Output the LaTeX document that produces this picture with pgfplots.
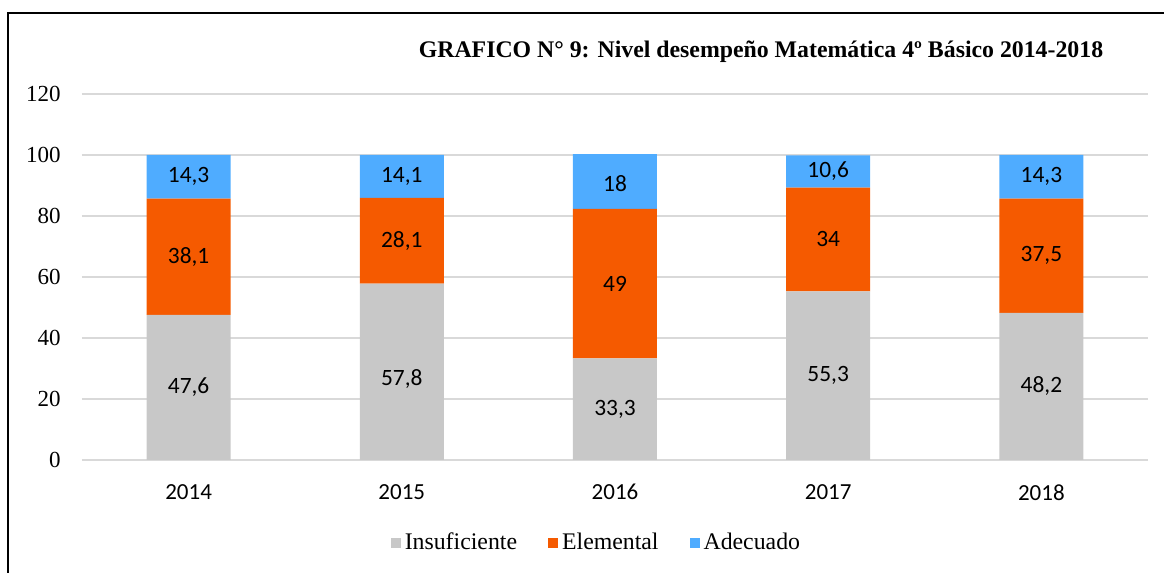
\documentclass[border=0pt]{standalone}
\usepackage{fontspec}
\setmainfont{Liberation Serif}
\newfontfamily\calibri{Carlito}
\usepackage{pgfplots}
\pgfplotsset{compat=1.18}
\definecolor{cIns}{HTML}{C8C8C8}
\definecolor{cEle}{HTML}{F55A00}
\definecolor{cAde}{HTML}{4FACFF}
\definecolor{cGrid}{HTML}{D9D9D9}
\begin{document}
\begin{tikzpicture}
\useasboundingbox (0,0) rectangle (582pt,286.5pt);
\draw[line width=1pt] (4pt,0) -- (4pt,280pt) -- (582pt,280pt);
\node[font=\bfseries\fontsize{11.9}{14}\selectfont] at (380.5pt,260.5pt) {GRAFICO N° 9: Nivel desempeño Matemática 4º Básico 2014-2018};
\begin{axis}[
  at={(41pt,56.5pt)}, anchor=south west, scale only axis,
  width=533pt, height=183pt,
  ybar stacked, bar width=42pt,
  xmin=-0.5, xmax=4.5, ymin=0, ymax=120,
  ytick={0,20,...,120},
  xtick={0,1,2,3,4}, xticklabels={2014,2015,2016,2017,2018},
  axis line style={draw=none},
  major tick length=0pt,
  ymajorgrids, grid style={cGrid, line width=0.8pt},
  /pgf/number format/assume math mode=true,
  yticklabel style={font=\fontsize{11.5}{13}\selectfont, anchor=east, inner sep=0pt, xshift=-10.5pt},
  xticklabel style={font=\calibri\fontsize{11.5}{13}\selectfont, anchor=north, inner sep=0pt, yshift=-12pt},
  legend image code/.code={\fill[#1] (0pt,-2.5pt) rectangle (5pt,2.5pt);},
  legend columns=-1,
  legend style={at={(0.4835,-0.2268)}, anchor=center, draw=none,
    font=\fontsize{11.9}{13}\selectfont,
    /tikz/every even column/.append style={column sep=13.5pt},
    nodes={inner sep=2pt}},
]
\addplot[fill=cIns, draw=none] coordinates {(0,47.6) (1,57.8) (2,33.3) (3,55.3) (4,48.2)};
\addplot[fill=cEle, draw=none] coordinates {(0,38.1) (1,28.1) (2,49) (3,34) (4,37.5)};
\addplot[fill=cAde, draw=none] coordinates {(0,14.3) (1,14.1) (2,18) (3,10.6) (4,14.3)};
\legend{Insuficiente,Elemental,Adecuado}
\end{axis}
\begin{axis}[
  at={(41pt,56.5pt)}, anchor=south west, scale only axis,
  width=533pt, height=183pt,
  xmin=-0.5, xmax=4.5, ymin=0, ymax=120, hide axis,
  nodes near coords, point meta=explicit symbolic,
  every node near coord/.style={anchor=center, font=\calibri\fontsize{11.7}{13}\selectfont, text=black},
]
\addplot[draw=none, mark=none] coordinates {(0,23.8)[47,6] (1,26.5)[57,8] (2,16.65)[33,3] (3,27.65)[55,3] (4,24.1)[48,2]};
\addplot[draw=none, mark=none] coordinates {(0,66.65)[38,1] (1,71.85)[28,1] (2,57.8)[49] (3,72.3)[34] (4,66.95)[37,5]};
\addplot[draw=none, mark=none] coordinates {(0,92.85)[14,3] (1,92.95)[14,1] (2,90.5)[18] (3,94.6)[10,6] (4,92.85)[14,3]};
\end{axis}
\end{tikzpicture}
\end{document}
